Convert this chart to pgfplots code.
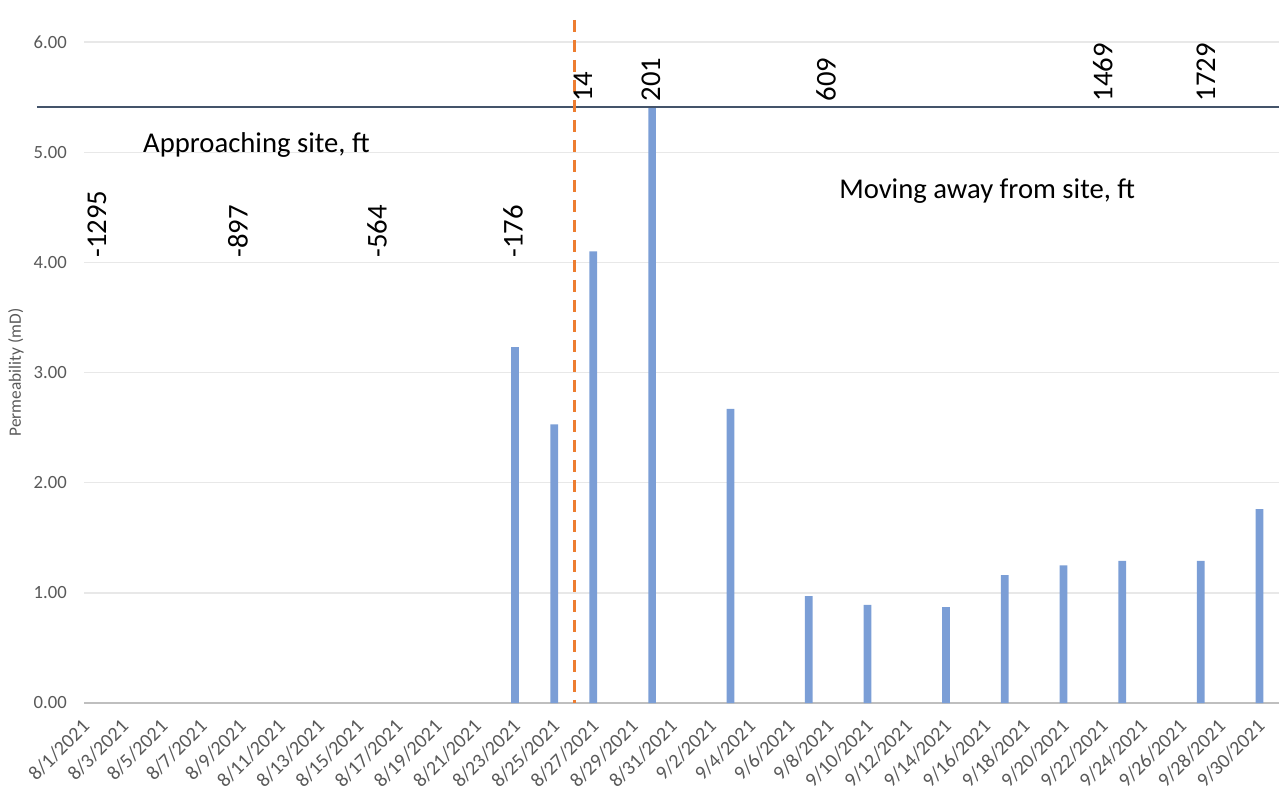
\documentclass[border=0pt]{standalone}
\usepackage{pgfplots}
\pgfplotsset{compat=1.18}
\usepackage{fontspec}
\setmainfont{Carlito}

\definecolor{barblue}{RGB}{123,158,214}
\definecolor{siteorange}{RGB}{237,125,49}
\definecolor{refline}{RGB}{68,84,106}
\definecolor{ticktext}{RGB}{89,89,89}
\definecolor{gridgray}{RGB}{232,232,232}
\definecolor{axisgray}{RGB}{191,191,191}
\newcommand\bigtxt{\fontsize{21.5pt}{24pt}\selectfont}
\newcommand\ticktxt{\fontsize{14pt}{16pt}\selectfont}
\newcommand\datetxt{\fontsize{15pt}{17pt}\selectfont}

\begin{document}
\begin{tikzpicture}
\begin{axis}[
  scale only axis, width=896.25pt, height=495.75pt,
  xmin=0, xmax=61, ymin=0, ymax=6,
  clip=false,
  axis line style={draw=none},
  major tick length=0pt,
  xtick={0,2,...,60},
  xticklabels={8/1/2021,8/3/2021,8/5/2021,8/7/2021,8/9/2021,8/11/2021,8/13/2021,8/15/2021,
    8/17/2021,8/19/2021,8/21/2021,8/23/2021,8/25/2021,8/27/2021,8/29/2021,8/31/2021,
    9/2/2021,9/4/2021,9/6/2021,9/8/2021,9/10/2021,9/12/2021,9/14/2021,9/16/2021,
    9/18/2021,9/20/2021,9/22/2021,9/24/2021,9/26/2021,9/28/2021,9/30/2021},
  xticklabel style={xshift=1.5pt, yshift=-15pt, rotate=45, anchor=east, inner sep=0pt,
    font=\datetxt, text=ticktext},
  ytick={0,1,...,6},
  yticklabel style={anchor=east, inner sep=0pt, xshift=-12.75pt, font=\ticktxt, text=ticktext,
    /pgf/number format/fixed, /pgf/number format/fixed zerofill, /pgf/number format/precision=2},
  /pgf/number format/assume math mode=true,
  ymajorgrids, grid style={gridgray, line width=1pt},
  extra y ticks={0}, extra y tick labels={},
  extra y tick style={grid style={axisgray, line width=1.6pt}},
  ylabel={Permeability (mD)},
  ylabel style={at={(axis description cs:-0.0569,0.5)}, anchor=center,
    font=\fontsize{13pt}{15pt}\selectfont, text=ticktext},
]
% permeability measured on each survey day (day 0 = 8/1/2021)
\addplot[ybar, bar width=5.8pt, fill=barblue, draw=none] coordinates {
  (22,3.23) (24,2.53) (26,4.10) (29,5.41) (33,2.67) (37,0.97) (40,0.89)
  (44,0.87) (47,1.16) (50,1.25) (53,1.29) (57,1.29) (60,1.76)};
% reference level for distance annotations
\addplot[refline, line width=1.4pt] coordinates {(-2.4,5.41) (61,5.41)};
% site location
\addplot[siteorange, line width=2.3pt, dash pattern=on 9pt off 6pt] coordinates {(25.06,6.2) (25.06,0)};

% distances to the site, ft
\node[rotate=90, anchor=west, inner sep=0pt, font=\bigtxt] at (axis cs:0.66,4.04) {-1295};
\node[rotate=90, anchor=west, inner sep=0pt, font=\bigtxt] at (axis cs:7.86,4.04) {-897};
\node[rotate=90, anchor=west, inner sep=0pt, font=\bigtxt] at (axis cs:14.96,4.04) {-564};
\node[rotate=90, anchor=west, inner sep=0pt, font=\bigtxt] at (axis cs:21.9,4.04) {-176};
\node[rotate=90, anchor=west, inner sep=0pt, font=\bigtxt] at (axis cs:25.47,5.46) {14};
\node[rotate=90, anchor=west, inner sep=0pt, font=\bigtxt] at (axis cs:28.94,5.46) {201};
\node[rotate=90, anchor=west, inner sep=0pt, font=\bigtxt] at (axis cs:37.88,5.46) {609};
\node[rotate=90, anchor=west, inner sep=0pt, font=\bigtxt] at (axis cs:52.0,5.46) {1469};
\node[rotate=90, anchor=west, inner sep=0pt, font=\bigtxt] at (axis cs:57.27,5.46) {1729};

\node[anchor=base west, inner sep=0pt, font=\bigtxt] at (axis cs:3.01,5.0) {Approaching site, ft};
\node[anchor=base west, inner sep=0pt, font=\bigtxt] at (axis cs:38.54,4.58) {Moving away from site, ft};
\end{axis}
\pgfresetboundingbox
\useasboundingbox (-63pt,-68.25pt) rectangle (900pt,527.25pt);
\end{tikzpicture}
\end{document}
